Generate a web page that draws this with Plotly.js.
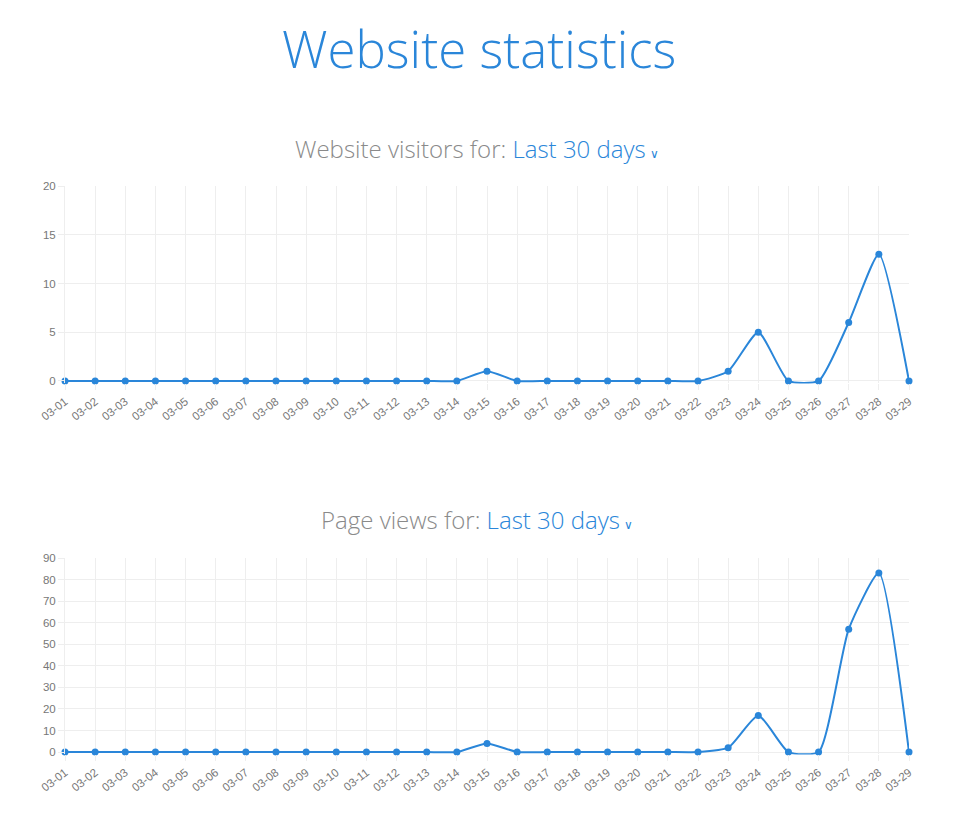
<!DOCTYPE html>
<html>
<head>
<meta charset="utf-8">
<script src="https://cdn.plot.ly/plotly-3.0.1.min.js"></script>
<style>
  html, body { margin: 0; padding: 0; background: #ffffff; }
  #chart { width: 975px; height: 827px; }
</style>
</head>
<body>
<div id="chart"></div>
<script>
const days = ["03-01","03-02","03-03","03-04","03-05","03-06","03-07","03-08","03-09","03-10",
  "03-11","03-12","03-13","03-14","03-15","03-16","03-17","03-18","03-19","03-20",
  "03-21","03-22","03-23","03-24","03-25","03-26","03-27","03-28","03-29"];
const visitors = [0,0,0,0,0,0,0,0,0,0, 0,0,0,0,1,0,0,0,0,0, 0,0,1,5,0,0,6,13,0];
const pageViews = [0,0,0,0,0,0,0,0,0,0, 0,0,0,0,4,0,0,0,0,0, 0,0,2,17,0,0,57,83,0];
const visitorTicks = [0,5,10,15,20];
const viewTicks = [0,10,20,30,40,50,60,70,80,90];

const blue = "#2a86d9";
const H = 827;
function dom(topPx, bottomPx) { return [1 - bottomPx / H, 1 - topPx / H]; }

function trace(y, xa, ya) {
  return {
    x: days, y: y, xaxis: xa, yaxis: ya, type: "scatter", mode: "lines+markers",
    line: { color: blue, width: 2, shape: "spline", smoothing: 0.55 },
    marker: { color: blue, size: 7 },
    cliponaxis: false, hoverinfo: "x+y", showlegend: false
  };
}

const xbase = {
  type: "category", range: [0, days.length - 1], tickangle: -38,
  tickfont: { family: "Liberation Sans, Arial, sans-serif", size: 11.5, color: "#777" },
  showgrid: true, gridcolor: "#eeeeee", gridwidth: 1,
  ticks: "outside", ticklen: 6, tickcolor: "#eeeeee",
  showline: false, zeroline: false, fixedrange: true
};
function ybase(range, ticks, d) {
  return {
    range: range, tickmode: "array", tickvals: ticks, ticktext: ticks.map(String),
    domain: d, showgrid: true, gridcolor: "#eeeeee", gridwidth: 1,
    ticks: "outside", ticklen: 6, tickcolor: "#eeeeee",
    tickfont: { family: "Liberation Sans, Arial, sans-serif", size: 11.5, color: "#777" },
    showline: true, linecolor: "#eeeeee", zeroline: false, fixedrange: true
  };
}

const titleFont = "Open Sans, Lato, sans-serif";
const chevron = "<span style=\"fill:" + blue + ";font-size:12px;font-family:DejaVu Sans\"> ∨</span>";
const layout = {
  width: 975, height: 827,
  margin: { l: 65, r: 66, t: 0, b: 0 },
  paper_bgcolor: "#ffffff", plot_bgcolor: "#ffffff",
  xaxis: Object.assign({}, xbase, { anchor: "y" }),
  yaxis: ybase([-0.25, 20], visitorTicks, dom(186, 383.4)),
  xaxis2: Object.assign({}, xbase, { anchor: "y2" }),
  yaxis2: ybase([-1.1, 90], viewTicks, dom(558, 754.4)),
  annotations: [
    { text: "Website statistics", x: 0.49, y: 1 - 48 / H, xref: "paper", yref: "paper",
      xanchor: "center", yanchor: "middle", showarrow: false,
      font: { family: titleFont, size: 51, color: blue, weight: 300 } },
    { text: "Website visitors for: <span style=\"fill:" + blue + "\">Last 30 days</span>" + chevron,
      x: 0.488, y: 1 - 148 / H, xref: "paper", yref: "paper",
      xanchor: "center", yanchor: "middle", showarrow: false,
      font: { family: titleFont, size: 24, color: "#8a8a8a", weight: 300 } },
    { text: "Page views for: <span style=\"fill:" + blue + "\">Last 30 days</span>" + chevron,
      x: 0.488, y: 1 - 519 / H, xref: "paper", yref: "paper",
      xanchor: "center", yanchor: "middle", showarrow: false,
      font: { family: titleFont, size: 24, color: "#8a8a8a", weight: 300 } }
  ]
};

Plotly.newPlot("chart", [trace(visitors, "x", "y"), trace(pageViews, "x2", "y2")], layout,
  { displayModeBar: false, staticPlot: true });
</script>
</body>
</html>
